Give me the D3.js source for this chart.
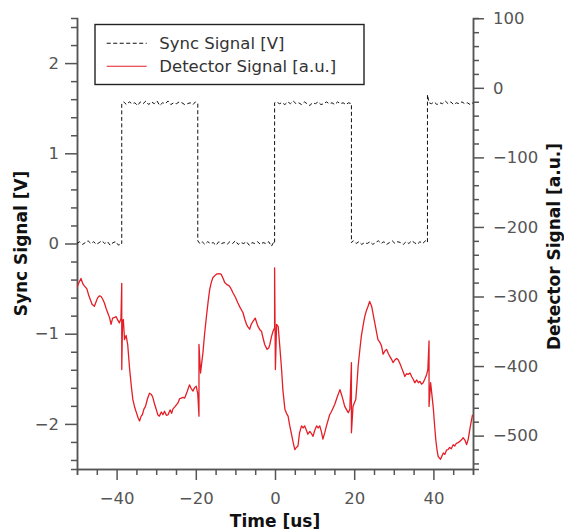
<!DOCTYPE html>
<html>
<head>
<meta charset="utf-8">
<script src="https://cdn.jsdelivr.net/npm/d3@7"></script>
<style>
  html, body { margin: 0; padding: 0; background: #fff; }
  svg { display: block; font-family: "DejaVu Sans", sans-serif; }
</style>
</head>
<body>
<svg id="chart" width="564" height="531"></svg>
<script>
// ---------- data ----------
const xTicks = [-40, -20, 0, 20, 40];
const yLeftTicks = [-2, -1, 0, 1, 2];
const yRightTicks = [-500, -400, -300, -200, -100, 0, 100];
const seriesNames = ["Sync Signal [V]", "Detector Signal [a.u.]"];

// Sync signal [time us, volts]
const syncData = [
  [-50,0.00],[-49.3,0.02],[-48.6,-0.01],[-47.9,0.01],[-47.2,0.03],[-46.5,0.00],[-45.8,0.02],[-45.1,-0.01],[-44.4,0.01],[-43.7,0.03],[-43,0.00],[-42.3,0.02],[-41.6,-0.02],[-40.9,0.01],[-40.2,0.02],[-39.5,-0.02],[-39,0.01],[-38.7,0.00],
  [-38.7,1.55],[-38.2,1.57],[-37.5,1.54],[-36.8,1.57],[-36.1,1.55],[-35.4,1.56],[-34.7,1.53],[-34,1.57],[-33.3,1.55],[-32.6,1.58],[-31.9,1.54],[-31.2,1.57],[-30.5,1.55],[-29.8,1.58],[-29.1,1.53],[-28.4,1.56],[-27.7,1.55],[-27,1.58],[-26.3,1.54],[-25.6,1.56],[-24.9,1.55],[-24.2,1.57],[-23.5,1.56],[-22.8,1.54],[-22.1,1.55],[-21.4,1.56],[-20.7,1.54],[-20.1,1.57],[-19.5,1.55],
  [-19.5,0.03],[-19,0.00],[-18.4,0.02],[-17.7,-0.01],[-17,0.02],[-16.3,0.00],[-15.6,0.01],[-14.9,-0.02],[-14.2,0.02],[-13.5,0.00],[-12.8,0.01],[-12.1,-0.01],[-11.4,0.02],[-10.7,0.00],[-10,0.03],[-9.3,-0.01],[-8.6,0.01],[-7.9,0.00],[-7.2,0.02],[-6.5,-0.02],[-5.8,0.01],[-5.1,0.00],[-4.4,0.02],[-3.7,-0.01],[-3,0.01],[-2.3,0.00],[-1.6,0.02],[-0.9,-0.03],[-0.4,0.01],[-0.1,0.00],
  [-0.1,1.56],[0.4,1.57],[1.1,1.55],[1.8,1.56],[2.5,1.54],[3.2,1.57],[3.9,1.55],[4.6,1.58],[5.3,1.55],[6,1.56],[6.7,1.54],[7.4,1.57],[8.1,1.55],[8.8,1.53],[9.5,1.56],[10.2,1.55],[10.9,1.57],[11.6,1.54],[12.3,1.55],[13,1.57],[13.7,1.55],[14.4,1.56],[15.1,1.54],[15.8,1.57],[16.5,1.55],[17.2,1.56],[17.9,1.54],[18.6,1.56],[19.3,1.55],
  [19.3,0.01],[19.8,0.03],[20.5,0.00],[21.2,0.02],[21.9,-0.01],[22.6,0.01],[23.3,0.00],[24,0.02],[24.7,-0.01],[25.4,0.01],[26.1,0.03],[26.8,0.00],[27.5,0.02],[28.2,-0.01],[28.9,0.01],[29.6,0.03],[30.3,0.00],[31,0.02],[31.7,0.01],[32.4,-0.01],[33.1,0.02],[33.8,0.00],[34.5,0.03],[35.2,0.01],[35.9,-0.01],[36.6,0.02],[37.3,0.00],[38,0.03],[38.5,0.01],
  [38.5,1.65],[38.9,1.56],[39.5,1.55],[40.2,1.57],[40.9,1.54],[41.6,1.56],[42.3,1.55],[43,1.58],[43.7,1.55],[44.4,1.57],[45.1,1.54],[45.8,1.56],[46.5,1.55],[47.2,1.57],[47.9,1.55],[48.6,1.56],[49.3,1.54],[50,1.56]
];

// Detector signal [time us, a.u.]
const detectorData = [
  [-50,-287],[-49.5,-280],[-49,-274],[-48.5,-282],[-48.1,-285],[-47.5,-289],[-47,-299],[-46.6,-305],[-46.2,-311],[-45.6,-314],[-45.2,-308],[-44.8,-302],[-44.3,-299],[-43.9,-300],[-43.5,-304],[-43.1,-309],[-42.6,-318],[-42.2,-324],[-41.8,-330],[-41.4,-340],[-41,-331],[-40.5,-330],[-40.1,-329],[-39.7,-334],[-39.3,-338],[-38.9,-332],[-38.7,-281],[-38.7,-405],[-38.5,-335],[-38.3,-333],[-38,-362],[-37.6,-356],[-37.2,-369],[-36.7,-405],[-36.3,-428],[-35.9,-448],[-35.4,-460],[-35,-467],[-34.6,-474],[-34.2,-479],[-33.8,-472],[-33.5,-470],[-33.1,-462],[-32.7,-458],[-32.2,-447],[-31.7,-439],[-31.2,-441],[-30.8,-446],[-30.4,-455],[-30,-462],[-29.6,-470],[-29.2,-472],[-28.7,-466],[-28.3,-470],[-27.9,-465],[-27.4,-471],[-27,-470],[-26.5,-463],[-26.1,-468],[-25.8,-462],[-25.2,-458],[-24.5,-453],[-24.1,-447],[-23.7,-446],[-23.2,-445],[-22.8,-446],[-22.2,-437],[-21.6,-427],[-21.2,-432],[-20.7,-436],[-20.3,-431],[-19.9,-429],[-19.5,-440],[-19.2,-472],[-19.2,-369],[-18.8,-410],[-18.5,-395],[-18.2,-381],[-17.8,-355],[-17.3,-328],[-16.9,-308],[-16.5,-290],[-16.1,-280],[-15.7,-273],[-15.2,-270],[-14.8,-268],[-14.2,-267],[-13.6,-268],[-13.1,-274],[-12.7,-280],[-12.1,-283],[-11.5,-285],[-11,-290],[-10.6,-295],[-10,-301],[-9.4,-309],[-8.8,-316],[-8.1,-323],[-7.6,-333],[-7.2,-340],[-6.8,-344],[-6.4,-347],[-6,-340],[-5.6,-336],[-5,-331],[-4.6,-338],[-4.3,-343],[-3.8,-348],[-3.4,-350],[-3,-360],[-2.6,-369],[-2,-376],[-1.6,-374],[-1.3,-369],[-0.9,-358],[-0.5,-350],[-0.1,-345],[-0.1,-259],[0.1,-405],[0.4,-340],[0.8,-343],[1.2,-371],[1.6,-400],[2,-435],[2.5,-462],[2.9,-468],[3.3,-472],[3.7,-485],[4.1,-496],[4.6,-510],[5,-520],[5.4,-517],[5.8,-515],[6.2,-496],[6.7,-486],[7.1,-489],[7.5,-486],[7.9,-492],[8.3,-498],[8.8,-494],[9.2,-497],[9.6,-501],[10,-493],[10.5,-486],[10.9,-489],[11.3,-486],[11.7,-494],[12.1,-505],[12.6,-495],[13,-486],[13.4,-478],[13.8,-470],[14.2,-466],[14.7,-460],[15.1,-455],[15.5,-448],[16,-440],[16.4,-434],[16.8,-441],[17.2,-449],[17.6,-458],[18.1,-463],[18.5,-467],[18.9,-462],[19.3,-395],[19.3,-496],[19.7,-458],[20.1,-452],[20.4,-448],[20.7,-425],[21,-400],[21.4,-378],[21.8,-357],[22.3,-340],[22.7,-328],[23.1,-320],[23.5,-314],[23.9,-307],[24.4,-314],[24.8,-326],[25.2,-338],[25.6,-350],[26,-362],[26.5,-366],[26.9,-371],[27.3,-383],[27.8,-378],[28.2,-376],[28.6,-382],[29,-386],[29.4,-390],[29.8,-395],[30.3,-391],[30.7,-389],[31.1,-391],[31.6,-397],[32,-403],[32.4,-409],[32.8,-415],[33.2,-411],[33.6,-412],[34.1,-410],[34.5,-415],[34.9,-419],[35.3,-424],[35.8,-420],[36.2,-424],[36.6,-422],[37,-426],[37.4,-424],[37.9,-418],[38.3,-412],[38.6,-405],[38.9,-364],[38.9,-458],[39.3,-424],[39.6,-440],[40,-462],[40.3,-485],[40.6,-506],[40.9,-520],[41.2,-530],[41.5,-532],[41.8,-534],[42.1,-530],[42.5,-525],[42.9,-527],[43.3,-521],[43.7,-520],[44.1,-517],[44.5,-519],[45,-513],[45.4,-515],[45.8,-511],[46.3,-510],[46.7,-508],[47.1,-506],[47.5,-503],[48,-507],[48.4,-513],[48.8,-505],[49.2,-491],[49.6,-478],[49.9,-470]
];

// ---------- layout ----------
const W = 564, H = 531;
const m = { left: 77, right: 91, top: 18, bottom: 62 };
const svg = d3.select("#chart");

const x = d3.scaleLinear().domain([-50, 50]).range([m.left, W - m.right]);
const yL = d3.scaleLinear().domain([-2.5, 2.5]).range([H - m.bottom, m.top]);
const yR = d3.scaleLinear().domain([-548, 100.4]).range([H - m.bottom, m.top]);

const axisColor = "#555";
const labelColor = "#555";

function style(g) {
  g.select(".domain").attr("stroke", axisColor).attr("stroke-width", 1.5);
  g.selectAll(".tick line").attr("stroke", axisColor).attr("stroke-width", 1.5);
  g.selectAll(".tick text").attr("fill", labelColor)
    .style("font-family", "DejaVu Sans").style("font-size", "16.5px");
}

// minor ticks
const xMinor = d3.range(-50, 50.01, 5).filter(v => !xTicks.includes(v));
const yLMinor = d3.range(-24, 25, 2).map(v => v / 10).filter(v => !yLeftTicks.includes(v));
const yRMinor = d3.range(-540, 101, 20).filter(v => !yRightTicks.includes(v));

svg.append("g").attr("transform", `translate(0,${H - m.bottom})`)
  .call(d3.axisBottom(x).tickValues(xMinor).tickSize(6).tickFormat(""))
  .call(style);
svg.append("g").attr("transform", `translate(0,${H - m.bottom})`)
  .call(d3.axisBottom(x).tickValues(xTicks).tickSize(11).tickPadding(12).tickSizeOuter(0)
    .tickFormat(d => d3.format("")(d).replace("-", "\u2212")))
  .call(style);

svg.append("g").attr("transform", `translate(${m.left},0)`)
  .call(d3.axisLeft(yL).tickValues(yLMinor).tickSize(6).tickFormat(""))
  .call(style);
svg.append("g").attr("transform", `translate(${m.left},0)`)
  .call(d3.axisLeft(yL).tickValues(yLeftTicks).tickSize(12).tickPadding(6).tickSizeOuter(0)
    .tickFormat(d => String(d).replace("-", "\u2212")))
  .call(style);

svg.append("g").attr("transform", `translate(${W - m.right},0)`)
  .call(d3.axisRight(yR).tickValues(yRMinor).tickSize(6).tickFormat(""))
  .call(style);
svg.append("g").attr("transform", `translate(${W - m.right},0)`)
  .call(d3.axisRight(yR).tickValues(yRightTicks).tickSize(11).tickPadding(9).tickSizeOuter(0)
    .tickFormat(d => String(d).replace("-", "\u2212")))
  .call(style);

// ---------- lines ----------
svg.append("clipPath").attr("id", "plotclip").append("rect")
  .attr("x", m.left).attr("y", m.top)
  .attr("width", W - m.left - m.right).attr("height", H - m.top - m.bottom);

const plot = svg.append("g").attr("clip-path", "url(#plotclip)");

const syncLine = d3.line().x(d => x(d[0])).y(d => yL(d[1]));
const detLine = d3.line().x(d => x(d[0])).y(d => yR(d[1]));

const detColor = "#e41e26";

plot.append("path").datum(detectorData)
  .attr("d", detLine).attr("fill", "none")
  .attr("stroke", detColor).attr("stroke-width", 1.3).attr("stroke-linejoin", "round");

plot.append("path").datum(syncData)
  .attr("d", syncLine).attr("fill", "none")
  .attr("stroke", "#111").attr("stroke-width", 1).attr("stroke-dasharray", "4,2.5");

// ---------- axis titles ----------
const titleStyle = s => s.attr("fill", "#111").style("font-family", "DejaVu Sans")
  .style("font-weight", "bold").style("font-size", "17px").attr("text-anchor", "middle");

svg.append("text").attr("x", (m.left + W - m.right) / 2).attr("y", 527)
  .text("Time [us]").call(titleStyle);
svg.append("text").attr("transform", `translate(26.5,${(m.top + H - m.bottom) / 2}) rotate(-90)`)
  .text("Sync Signal [V]").call(titleStyle);
svg.append("text").attr("transform", `translate(559.5,${(m.top + H - m.bottom) / 2 + 3}) rotate(-90)`)
  .text("Detector Signal [a.u.]").call(titleStyle);

// ---------- legend ----------
const lg = svg.append("g");
lg.append("rect").attr("x", 95).attr("y", 24.5).attr("width", 269).attr("height", 60)
  .attr("fill", "#fff").attr("stroke", "#222").attr("stroke-width", 1.4);
const legendItems = [
  { name: seriesNames[0], color: "#111", dash: "4,2.5", y: 43.3 },
  { name: seriesNames[1], color: detColor, dash: null, y: 66.3 }
];
legendItems.forEach(it => {
  lg.append("line").attr("x1", 106.7).attr("x2", 146.7).attr("y1", it.y).attr("y2", it.y)
    .attr("stroke", it.color).attr("stroke-width", 1.1)
    .attr("stroke-dasharray", it.dash);
  lg.append("text").attr("x", 159.3).attr("y", it.y + 5.6)
    .attr("fill", "#333").style("font-family", "DejaVu Sans").style("font-size", "16.5px")
    .text(it.name);
});
</script>
</body>
</html>
